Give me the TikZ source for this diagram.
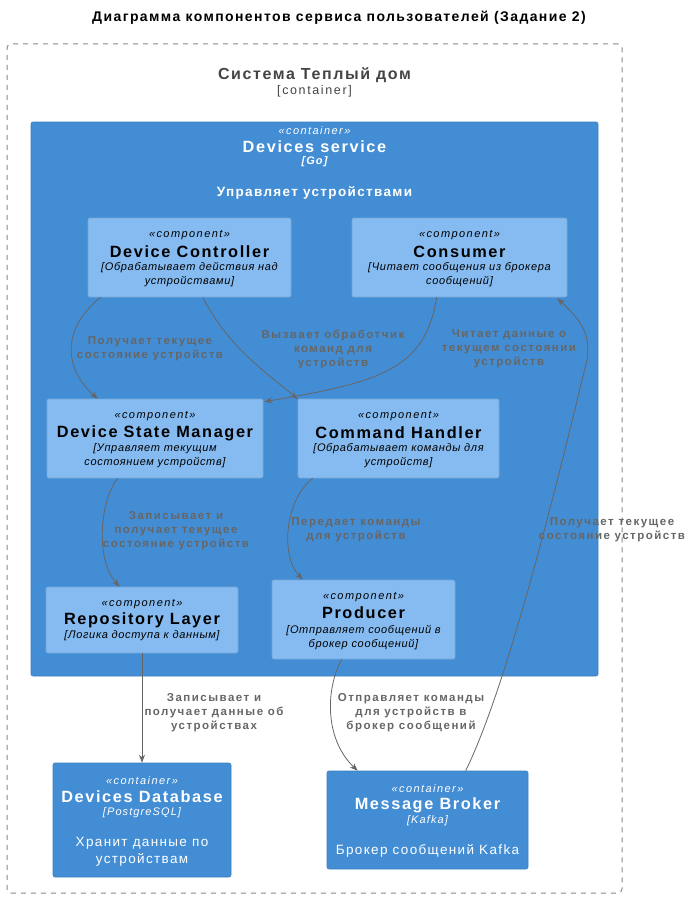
\documentclass[tikz,border=0pt]{standalone}
\usepackage{fontspec}
\setmainfont{Liberation Sans}
\newfontfamily\spA[LetterSpace=6]{Liberation Sans}
\newfontfamily\spB[LetterSpace=10]{Liberation Sans}
\newfontfamily\lblfam[LetterSpace=13]{Liberation Sans}
\usetikzlibrary{arrows.meta,calc}
\definecolor{contblue}{HTML}{438DD5}
\definecolor{contedge}{HTML}{3C7FC0}
\definecolor{compblue}{HTML}{85BBF0}
\definecolor{compedge}{HTML}{78A8D8}
\definecolor{relgray}{HTML}{666666}
\definecolor{bndgray}{HTML}{888888}
\definecolor{dark}{HTML}{444444}
\tikzset{
  compbox/.style={fill=compblue,draw=compedge,line width=0.6pt,rounded corners=2pt,inner sep=0pt},
  contbox/.style={fill=contblue,draw=contedge,line width=0.6pt,rounded corners=2pt,inner sep=0pt},
  stereo/.style={inner sep=0pt,font=\lblfam\itshape\fontsize{11}{13}\selectfont},
  ctitle/.style={inner sep=0pt,font=\spB\bfseries\fontsize{16.3}{19}\selectfont},
  cdesc/.style={inner sep=0pt,align=center,font=\spA\itshape\fontsize{11}{14}\selectfont},
  ctech/.style={inner sep=0pt,font=\spB\itshape\fontsize{11}{14}\selectfont},
  wdesc/.style={inner sep=0pt,align=center,text=white,font=\spB\fontsize{13.5}{17}\selectfont},
  rel/.style={draw=relgray,line width=0.8pt,-{Stealth[length=8pt,width=6pt]}},
  lbl/.style={inner sep=0pt,align=center,text=relgray,font=\lblfam\bfseries\fontsize{11.5}{14}\selectfont},
}
\begin{document}
\begin{tikzpicture}[x=1pt,y=-1pt]
\useasboundingbox (0,0) rectangle (691,899);
% title
\node[inner sep=0pt,font=\spB\bfseries\fontsize{14}{17}\selectfont] (title) at (339,18) {Диаграмма компонентов сервиса пользователей (Задание 2)};
% boundary
\node[draw=bndgray,dash pattern=on 5pt off 5pt,line width=1pt,rounded corners=4pt,minimum width=615pt,minimum height=849pt,inner sep=0pt] (bnd) at (314.5,468.5) {};
\node[inner sep=0pt,text=dark,font=\spB\bfseries\fontsize{16}{19}\selectfont] (bndname) at (314.5,75) {Система Теплый дом};
\node[inner sep=0pt,text=dark,font=\lblfam\fontsize{12.5}{15}\selectfont] (bndtype) at (314.5,91) {[container]};
% devices service container
\node[contbox,minimum width=567pt,minimum height=554pt] (svc) at (314.5,399) {};
\node[stereo,text=white] (svcst) at (314.5,131) {«container»};
\node[ctitle,text=white] (svcti) at (314.5,147) {Devices service};
\node[ctech,text=white,font=\spB\bfseries\itshape\fontsize{11}{14}\selectfont] (svcte) at (314.5,162) {[Go]};
\node[inner sep=0pt,text=white,font=\spB\bfseries\fontsize{13.5}{16}\selectfont] (svcde) at (314.5,193) {Управляет устройствами};
% Device Controller
\node[compbox,minimum width=203pt,minimum height=79pt] (dc) at (189.5,257.5) {};
\node[stereo] (dcst) at (189.5,235) {«component»};
\node[ctitle] (dcti) at (189.5,252) {Device Controller};
\node[cdesc] (dcde) at (189.5,275) {[Обрабатывает действия над\\устройствами]};
% Consumer
\node[compbox,minimum width=215pt,minimum height=79pt] (cons) at (459.5,257.5) {};
\node[stereo] (consst) at (459.5,235) {«component»};
\node[ctitle] (consti) at (459.5,252) {Consumer};
\node[cdesc] (consde) at (459.5,275) {[Читает сообщения из брокера\\сообщений]};
% Device State Manager
\node[compbox,minimum width=216pt,minimum height=79pt] (dsm) at (155,438.5) {};
\node[stereo] (dsmst) at (155,416) {«component»};
\node[ctitle] (dsmti) at (155,433) {Device State Manager};
\node[cdesc] (dsmde) at (155,456) {[Управляет текущим\\состоянием устройств]};
% Command Handler
\node[compbox,minimum width=201pt,minimum height=79pt] (ch) at (398.5,438.5) {};
\node[stereo] (chst) at (398.5,416) {«component»};
\node[ctitle] (chti) at (398.5,433) {Command Handler};
\node[cdesc] (chde) at (398.5,456) {[Обрабатывает команды для\\устройств]};
% Repository Layer
\node[compbox,minimum width=192pt,minimum height=66pt] (repo) at (142,620) {};
\node[stereo] (repost) at (142,604) {«component»};
\node[ctitle] (repoti) at (142,620) {Repository Layer};
\node[cdesc] (repode) at (142,636) {[Логика доступа к данным]};
% Producer
\node[compbox,minimum width=183pt,minimum height=79pt] (prod) at (363.5,619.5) {};
\node[stereo] (prodst) at (363.5,597) {«component»};
\node[ctitle] (prodti) at (363.5,613) {Producer};
\node[cdesc] (prodde) at (363.5,637.5) {[Отправляет сообщений в\\брокер сообщений]};
% Devices Database
\node[contbox,minimum width=178pt,minimum height=114pt] (db) at (142,820) {};
\node[stereo,text=white] (dbst) at (142,781) {«container»};
\node[ctitle,text=white] (dbti) at (142,797) {Devices Database};
\node[ctech,text=white] (dbte) at (142,813) {[PostgreSQL]};
\node[wdesc] (dbde) at (142,851.5) {Хранит данные по\\устройствам};
% Message Broker
\node[contbox,minimum width=201pt,minimum height=98pt] (mb) at (427.5,820) {};
\node[stereo,text=white] (mbst) at (427.5,789) {«container»};
\node[ctitle,text=white] (mbti) at (427.5,805) {Message Broker};
\node[ctech,text=white] (mbte) at (427.5,821) {[Kafka]};
\node[wdesc] (mbde) at (427.5,851) {Брокер сообщений Kafka};
% relations
\draw[rel] ($(dc.south west)+(13,0)$) .. controls (60,330) and (65,370) .. ($(dsm.north west)+(51,0)$);
\node[lbl] (l1) at (150,349) {Получает текущее\\состояние устройств};
\draw[rel] ($(dc.south west)+(115,0)$) .. controls (230,350) and (270,375) .. ($(ch.north west)+(0,0.5)$);
\node[lbl] (l2) at (333,349) {Вызвает обработчик\\команд для\\устройств};
\draw[rel] ($(cons.south west)+(85,0)$) .. controls (425,370) and (380,382) .. ($(dsm.north east)+(1,3)$);
\node[lbl] (l3) at (509,349) {Читает данные о\\текущем состоянии\\устройств};
\draw[rel] ($(dsm.south west)+(71,0)$) .. controls (100,500) and (95,560) .. ($(repo.north west)+(74,0)$);
\node[lbl] (l4) at (176,531) {Записывает и\\получает текущее\\состояние устройств};
\draw[rel] ($(ch.south west)+(15,0)$) .. controls (285,500) and (280,555) .. ($(prod.north west)+(31,0)$);
\node[lbl] (l5) at (356,530) {Передает команды\\для устройств};
\draw[rel] (repo.south) -- (db.north);
\node[lbl] (l6) at (214,713) {Записывает и\\получает данные об\\устройствах};
\draw[rel] ($(prod.south west)+(70,0)$) .. controls (325,690) and (325,740) .. ($(mb.north west)+(31,0)$);
\node[lbl] (l7) at (411,713) {Отправляет команды\\для устройств в\\брокер сообщений};
\draw[rel] ($(mb.north west)+(139,0)$) .. controls (510,680) and (560,470) .. (587,360) .. controls (592,330) and (575,315) .. ($(cons.south east)+(-10,1)$);
\node[lbl] (l8) at (612,530) {Получает текущее\\состояние устройств};
\end{tikzpicture}
\end{document}
